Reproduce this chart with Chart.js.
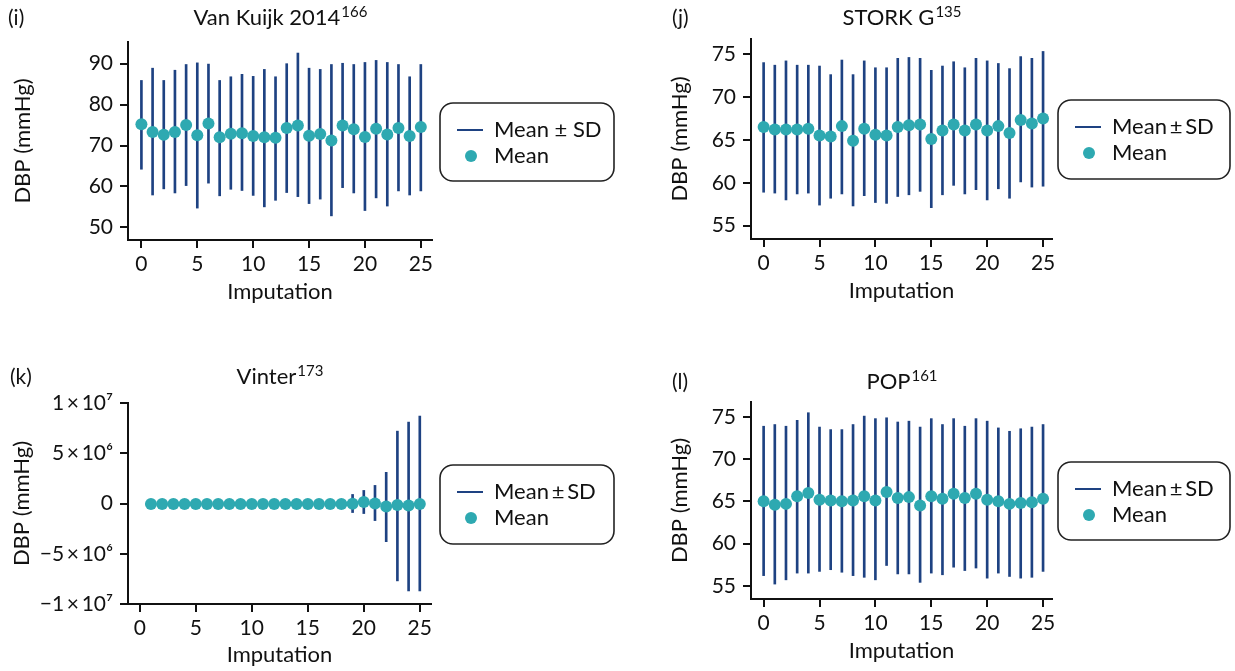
<!DOCTYPE html>
<html>
<head>
<meta charset="utf-8">
<script src="https://cdn.jsdelivr.net/npm/chart.js@4.4.1/dist/chart.umd.min.js"></script>
<style>
  body { margin: 0; background: #fff; width: 1235px; height: 671px; overflow: hidden; position: relative; }
  canvas { position: absolute; }
</style>
</head>
<body>
<canvas id="pI" width="617" height="310" style="left:0;top:0"></canvas>
<canvas id="pJ" width="618" height="310" style="left:617px;top:0"></canvas>
<canvas id="pK" width="617" height="316" style="left:0;top:355px"></canvas>
<canvas id="pL" width="618" height="316" style="left:617px;top:355px"></canvas>
<script>
// imputation numbers on the x axis
const imputations = [0, 1, 2, 3, 4, 5, 6, 7, 8, 9, 10, 11, 12, 13, 14, 15, 16, 17, 18, 19, 20, 21, 22, 23, 24, 25];
const vinterImputations = [1, 2, 3, 4, 5, 6, 7, 8, 9, 10, 11, 12, 13, 14, 15, 16, 17, 18, 19, 20, 21, 22, 23, 24, 25];
const xTicks = [0, 5, 10, 15, 20, 25];

// (i) Van Kuijk 2014
const vkMean = [75.2, 73.3, 72.6, 73.3, 75.0, 72.5, 75.4, 72.0, 72.9, 73.0, 72.3, 72.0, 71.9, 74.3, 74.9, 72.4, 72.8, 71.2, 74.9, 74.0, 72.1, 74.1, 72.7, 74.3, 72.3, 74.5];
const vkHigh = [85.9, 88.9, 85.9, 88.4, 89.8, 90.2, 89.9, 85.9, 86.8, 87.4, 86.9, 88.6, 86.8, 90.0, 92.6, 88.9, 88.6, 89.8, 90.1, 89.8, 90.3, 90.8, 90.3, 89.8, 86.8, 89.8];
const vkLow = [64.2, 57.9, 59.4, 58.4, 60.2, 54.7, 60.8, 57.7, 59.3, 59.0, 57.8, 55.0, 56.6, 58.5, 57.5, 55.8, 56.9, 52.8, 59.7, 58.4, 54.1, 57.2, 55.2, 58.9, 57.9, 58.9];

// (j) STORK G
const storkMean = [66.5, 66.2, 66.2, 66.2, 66.3, 65.5, 65.4, 66.6, 64.9, 66.3, 65.6, 65.5, 66.5, 66.7, 66.8, 65.1, 66.1, 66.8, 66.1, 66.8, 66.1, 66.6, 65.8, 67.3, 66.9, 67.5];
const storkHigh = [74.0, 73.7, 74.2, 73.7, 73.7, 73.6, 72.6, 74.3, 72.6, 74.2, 73.4, 73.4, 74.5, 74.6, 74.5, 73.1, 73.6, 74.1, 73.4, 74.5, 74.2, 73.9, 73.3, 74.7, 74.5, 75.3];
const storkLow = [58.9, 58.8, 58.0, 58.7, 58.8, 57.4, 58.2, 58.7, 57.3, 58.5, 57.7, 57.6, 58.4, 58.6, 59.0, 57.1, 58.6, 59.7, 58.7, 59.2, 58.0, 59.3, 58.2, 60.1, 59.5, 59.6];

// (k) Vinter
const vinterMean = [-60000, -60000, -60000, -60000, -60000, -60000, -60000, -60000, -60000, -60000, -60000, -60000, -60000, -60000, -60000, -60000, -60000, -60000, -30000, 150000, 0, -300000, -150000, -200000, -50000];
const vinterHigh = [40000, 40000, 40000, 40000, 40000, 40000, 40000, 40000, 40000, 40000, 40000, 40000, 40000, 40000, 40000, 40000, 40000, 40000, 900000, 1300000, 1800000, 3100000, 7200000, 8100000, 8700000];
const vinterLow = [-160000, -160000, -160000, -160000, -160000, -160000, -160000, -160000, -160000, -160000, -160000, -160000, -160000, -160000, -160000, -160000, -160000, -160000, -900000, -1000000, -1700000, -3800000, -7700000, -8700000, -8700000];
const vinterTickValues = [10000000, 5000000, 0, -5000000, -10000000];
const vinterTickLabels = ['1\u2009×\u200910\u2077', '5\u2009×\u200910\u2076', '0', '\u22125\u2009×\u200910\u2076', '\u22121\u2009×\u200910\u2077'];

// (l) POP
const popMean = [65.0, 64.6, 64.7, 65.6, 66.0, 65.2, 65.1, 65.0, 65.1, 65.6, 65.1, 66.1, 65.4, 65.5, 64.5, 65.6, 65.3, 65.9, 65.4, 65.9, 65.2, 65.0, 64.7, 64.8, 64.9, 65.3];
const popHigh = [73.9, 74.1, 73.9, 74.6, 75.5, 73.8, 73.5, 73.5, 74.1, 75.1, 74.8, 74.9, 74.4, 74.5, 73.8, 74.8, 74.1, 74.8, 73.9, 74.8, 74.5, 73.7, 73.3, 73.6, 73.8, 74.1];
const popLow = [56.2, 55.2, 55.7, 56.5, 56.5, 56.7, 56.9, 56.6, 56.2, 56.0, 55.7, 57.4, 56.4, 56.4, 55.4, 56.5, 56.3, 57.2, 56.8, 57.1, 55.9, 56.5, 56.1, 55.9, 56.0, 56.7];

const NAVY = '#1e4282';
const TEAL = '#2ea9b1';
const INK = '#111111';
const FONT = 'Lato';

// panel letter, title with superscript reference, and the boxed legend
const decor = {
    id: 'decor',
    afterDraw(chart, args, o) {
        const ctx = chart.ctx;
        const area = chart.chartArea;
        ctx.save();
        ctx.fillStyle = INK;
        ctx.textBaseline = 'middle';
        ctx.textAlign = 'left';

        ctx.font = '21px ' + FONT;
        ctx.fillText(o.letter, o.letterX, o.titleY);

        ctx.font = '22px ' + FONT;
        const w1 = ctx.measureText(o.title).width;
        ctx.font = '15px ' + FONT;
        const w2 = ctx.measureText(o.sup).width;
        const x0 = (area.left + area.right) / 2 - (w1 + w2) / 2;
        ctx.font = '22px ' + FONT;
        ctx.fillText(o.title, x0, o.titleY);
        ctx.font = '15px ' + FONT;
        ctx.fillText(o.sup, x0 + w1 + 1, o.titleY - 6);

        const b = o.box;
        ctx.beginPath();
        ctx.roundRect(b.x, b.y, b.w, b.h, 13);
        ctx.lineWidth = 1.6;
        ctx.strokeStyle = '#222';
        ctx.stroke();

        const ds = chart.data.datasets;
        ctx.beginPath();
        ctx.moveTo(b.x + 17, b.y + 27);
        ctx.lineTo(b.x + 43, b.y + 27);
        ctx.lineWidth = 2;
        ctx.strokeStyle = NAVY;
        ctx.stroke();
        ctx.beginPath();
        ctx.arc(b.x + 31, b.y + 53, 6, 0, Math.PI * 2);
        ctx.fillStyle = TEAL;
        ctx.fill();

        ctx.fillStyle = INK;
        ctx.font = '22px ' + FONT;
        ctx.fillText(o.barText || ds[0].label, b.x + 54, b.y + 27);
        ctx.fillText(ds[1].label, b.x + 54, b.y + 53);
        ctx.restore();
    }
};

function drawPanel(id, p) {
    const bars = p.x.map((v, i) => ({x: v, y: [p.low[i], p.high[i]]}));
    const means = p.x.map((v, i) => ({x: v, y: p.mean[i]}));
    const axisGrid = {offset: false, drawOnChartArea: false, drawTicks: true, tickLength: 8, color: INK, lineWidth: 2};

    new Chart(document.getElementById(id), {
        data: {
            datasets: [
                {type: 'bar', label: 'Mean ± SD', data: bars, backgroundColor: NAVY, barThickness: 2, order: 2},
                {type: 'scatter', label: 'Mean', data: means, backgroundColor: TEAL, borderWidth: 0, pointRadius: 6, pointHoverRadius: 6, order: 1}
            ]
        },
        options: {
            responsive: false,
            animation: false,
            layout: {padding: {left: 0, right: p.padR, top: p.padT, bottom: 0}},
            plugins: {
                legend: {display: false},
                tooltip: {enabled: false},
                decor: p.decor
            },
            scales: {
                x: {
                    type: 'linear',
                    offset: false,
                    min: p.xmin,
                    max: p.xmax,
                    border: {color: INK, width: 2},
                    grid: axisGrid,
                    afterBuildTicks: (s) => { s.ticks = xTicks.map(v => ({value: v})); },
                    ticks: {color: INK, font: {family: FONT, size: 21}, padding: 4, maxRotation: 0},
                    title: {display: true, text: 'Imputation', color: INK, font: {family: FONT, size: 22}, padding: {top: 0, bottom: p.xtPad}},
                    afterFit: (s) => { s.height = p.xh; }
                },
                y: {
                    type: 'linear',
                    min: p.ymin,
                    max: p.ymax,
                    border: {color: INK, width: 2},
                    grid: axisGrid,
                    afterBuildTicks: (s) => { s.ticks = p.yTicks.map(v => ({value: v})); },
                    ticks: {color: INK, font: {family: FONT, size: 21}, padding: 7, callback: p.yLabel || (v => v)},
                    title: {display: true, text: 'DBP (mmHg)', color: INK, font: {family: FONT, size: 22}, padding: {top: p.ytPad, bottom: 0}},
                    afterFit: (s) => { s.width = p.yw; }
                }
            }
        },
        plugins: [decor]
    });
}

drawPanel('pI', {
    x: imputations, mean: vkMean, low: vkLow, high: vkHigh,
    xmin: -1.2, xmax: 26, ymin: 46.9, ymax: 95.3, yTicks: [50, 60, 70, 80, 90],
    yw: 128, padR: 185, padT: 42, xh: 70, ytPad: 10, xtPad: 5,
    decor: {letter: '(i)', letterX: 8, title: 'Van Kuijk 2014', sup: '166', titleY: 18,
            box: {x: 440, y: 103, w: 174, h: 78}}
});

drawPanel('pJ', {
    x: imputations, mean: storkMean, low: storkLow, high: storkHigh,
    xmin: -1.13, xmax: 25.8, ymin: 53.45, ymax: 76.75, yTicks: [55, 60, 65, 70, 75],
    yw: 134, padR: 183, padT: 39, xh: 71, ytPad: 50, xtPad: 6,
    decor: {letter: '(j)', letterX: 55, title: 'STORK G', sup: '135', titleY: 18,
            box: {x: 441, y: 100, w: 172, h: 79}, barText: 'Mean\u2009±\u2009SD'}
});

drawPanel('pK', {
    x: vinterImputations, mean: vinterMean, low: vinterLow, high: vinterHigh,
    xmin: -1.05, xmax: 26, ymin: -10000000, ymax: 10000000, yTicks: vinterTickValues,
    yLabel: (v) => vinterTickLabels[vinterTickValues.indexOf(v)],
    yw: 128, padR: 186, padT: 48, xh: 67, ytPad: 9, xtPad: 3,
    decor: {letter: '(k)', letterX: 10, title: 'Vinter', sup: '173', titleY: 22,
            box: {x: 440, y: 110, w: 174, h: 79}, barText: 'Mean\u2009±\u2009SD'}
});

drawPanel('pL', {
    x: imputations, mean: popMean, low: popLow, high: popHigh,
    xmin: -1.13, xmax: 25.8, ymin: 53.43, ymax: 76.77, yTicks: [55, 60, 65, 70, 75],
    yw: 134, padR: 183, padT: 47, xh: 72, ytPad: 50, xtPad: 7,
    decor: {letter: '(l)', letterX: 55, title: 'POP', sup: '161', titleY: 27,
            box: {x: 441, y: 107, w: 172, h: 78}, barText: 'Mean\u2009±\u2009SD'}
});
</script>
</body>
</html>
